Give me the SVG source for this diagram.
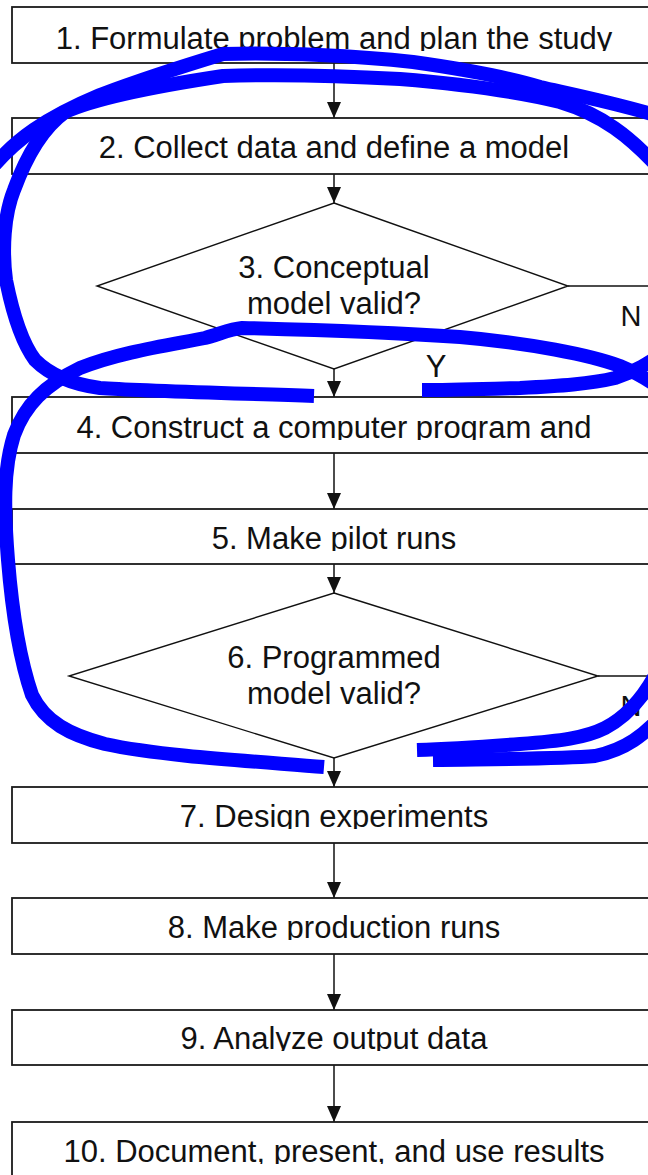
<svg xmlns="http://www.w3.org/2000/svg" width="648" height="1175" viewBox="0 0 648 1175">
<style>
.box{fill:#fff;stroke:#1a1a1a;stroke-width:1.8}
.dia{fill:#fff;stroke:#111;stroke-width:1.4}
.t{font-family:"Liberation Sans",Arial,sans-serif;font-size:31px;fill:#111;text-anchor:middle}
.lbl{font-family:"Liberation Sans",Arial,sans-serif;font-size:29px;fill:#111;text-anchor:middle}
.con{stroke:#111;stroke-width:1.5;fill:none}
.ink{stroke:#0000ff;stroke-width:14;fill:none;stroke-linecap:butt;stroke-linejoin:round}
</style>
<defs>
<marker id="ah" markerUnits="userSpaceOnUse" markerWidth="16" markerHeight="18" refX="16" refY="7" orient="auto">
<path d="M0,0 L16,7 L0,14 Z" fill="#111"/>
</marker>
<clipPath id="c1"><rect x="0" y="7" width="648" height="44"/></clipPath>
<clipPath id="c2"><rect x="0" y="118" width="648" height="42"/></clipPath>
<clipPath id="c4"><rect x="0" y="397" width="648" height="43"/></clipPath>
<clipPath id="c5"><rect x="0" y="509" width="648" height="42"/></clipPath>
<clipPath id="c7"><rect x="0" y="787" width="648" height="42"/></clipPath>
<clipPath id="c8"><rect x="0" y="898" width="648" height="42"/></clipPath>
<clipPath id="c9"><rect x="0" y="1010" width="648" height="41"/></clipPath>
<clipPath id="c10"><rect x="0" y="1122" width="648" height="42"/></clipPath>
</defs>
<rect width="648" height="1175" fill="#fff"/>

<g id="connectors">
<line class="con" x1="334" y1="63" x2="334" y2="118" marker-end="url(#ah)"/>
<line class="con" x1="334" y1="174" x2="334" y2="203" marker-end="url(#ah)"/>
<line class="con" x1="334" y1="369" x2="334" y2="397" marker-end="url(#ah)"/>
<line class="con" x1="334" y1="453" x2="334" y2="509" marker-end="url(#ah)"/>
<line class="con" x1="334" y1="564" x2="334" y2="593" marker-end="url(#ah)"/>
<line class="con" x1="334" y1="758" x2="334" y2="787" marker-end="url(#ah)"/>
<line class="con" x1="334" y1="843" x2="334" y2="898" marker-end="url(#ah)"/>
<line class="con" x1="334" y1="954" x2="334" y2="1010" marker-end="url(#ah)"/>
<line class="con" x1="334" y1="1065" x2="334" y2="1122" marker-end="url(#ah)"/>
<line class="con" x1="568" y1="286" x2="660" y2="286"/>
<line class="con" x1="598" y1="676" x2="660" y2="676"/>
<text class="lbl" x="631" y="326">N</text>
<text class="t" x="436" y="377">Y</text>
<text class="lbl" x="631" y="716">N</text>
</g>

<g id="n1"><rect class="box" x="12" y="7" width="645" height="56"/><text class="t" x="334" y="49" clip-path="url(#c1)">1. Formulate problem and plan the study</text></g>
<g id="n2"><rect class="box" x="12" y="118" width="645" height="56"/><text class="t" x="334" y="158" clip-path="url(#c2)">2. Collect data and define a model</text></g>
<g id="n3"><polygon class="dia" points="334,203 568,286 334,369 97,286"/><text class="t" x="334" y="278">3. Conceptual</text><text class="t" x="334" y="314">model valid?</text></g>
<g id="n4"><rect class="box" x="12" y="397" width="645" height="56"/><text class="t" x="334" y="438" clip-path="url(#c4)">4. Construct a computer program and</text></g>
<g id="n5"><rect class="box" x="12" y="509" width="645" height="55"/><text class="t" x="334" y="549" clip-path="url(#c5)">5. Make pilot runs</text></g>
<g id="n6"><polygon class="dia" points="334,593 598,676 334,758 69,676"/><text class="t" x="334" y="668">6. Programmed</text><text class="t" x="334" y="704">model valid?</text></g>
<g id="n7"><rect class="box" x="12" y="787" width="645" height="56"/><text class="t" x="334" y="827" clip-path="url(#c7)">7. Design experiments</text></g>
<g id="n8"><rect class="box" x="12" y="898" width="645" height="56"/><text class="t" x="334" y="938" clip-path="url(#c8)">8. Make production runs</text></g>
<g id="n9"><rect class="box" x="12" y="1010" width="645" height="55"/><text class="t" x="334" y="1049" clip-path="url(#c9)">9. Analyze output data</text></g>
<g id="n10"><rect class="box" x="12" y="1122" width="645" height="80"/><text class="t" x="334" y="1162" clip-path="url(#c10)">10. Document, present, and use results</text></g>

<g id="scribbles">
<path class="ink" d="M -8 168 C 15 140, 45 118, 100 95 C 140 80, 190 64, 223 54 C 280 52, 360 56, 413 62 C 470 70, 510 78, 540 87 C 580 96, 620 104, 665 118"/>
<path class="ink" d="M 314 396 C 230 393, 140 391, 100 388 C 70 384, 50 375, 35 360 C 20 340, 12 310, 6 280 C 2 250, 4 215, 14 190 C 25 160, 40 130, 65 112 C 100 96, 170 84, 223 76 C 280 74, 330 75, 400 79 C 460 84, 520 92, 560 102 C 600 114, 630 135, 665 175"/>
<path class="ink" d="M 665 352 C 650 362, 635 372, 615 378 C 590 384, 560 386, 520 388 C 480 389, 450 390, 422 390"/>
<path class="ink" d="M 324 767 C 250 761, 160 756, 105 744 C 70 735, 45 722, 32 695 C 20 660, 12 610, 8 560 C 4 510, 3 470, 14 435 C 25 405, 45 385, 80 368 C 120 352, 170 345, 205 338 C 220 334, 230 329, 242 328 C 320 330, 400 333, 460 337 C 530 343, 590 355, 620 366 C 640 374, 652 382, 665 392"/>
<path class="ink" d="M 665 655 C 650 690, 630 715, 605 728 C 585 738, 560 741, 520 744 C 480 747, 450 749, 417 750"/>
<path class="ink" d="M 665 712 C 645 735, 625 750, 595 756 C 560 759, 500 759, 433 760"/>
</g>
</svg>
